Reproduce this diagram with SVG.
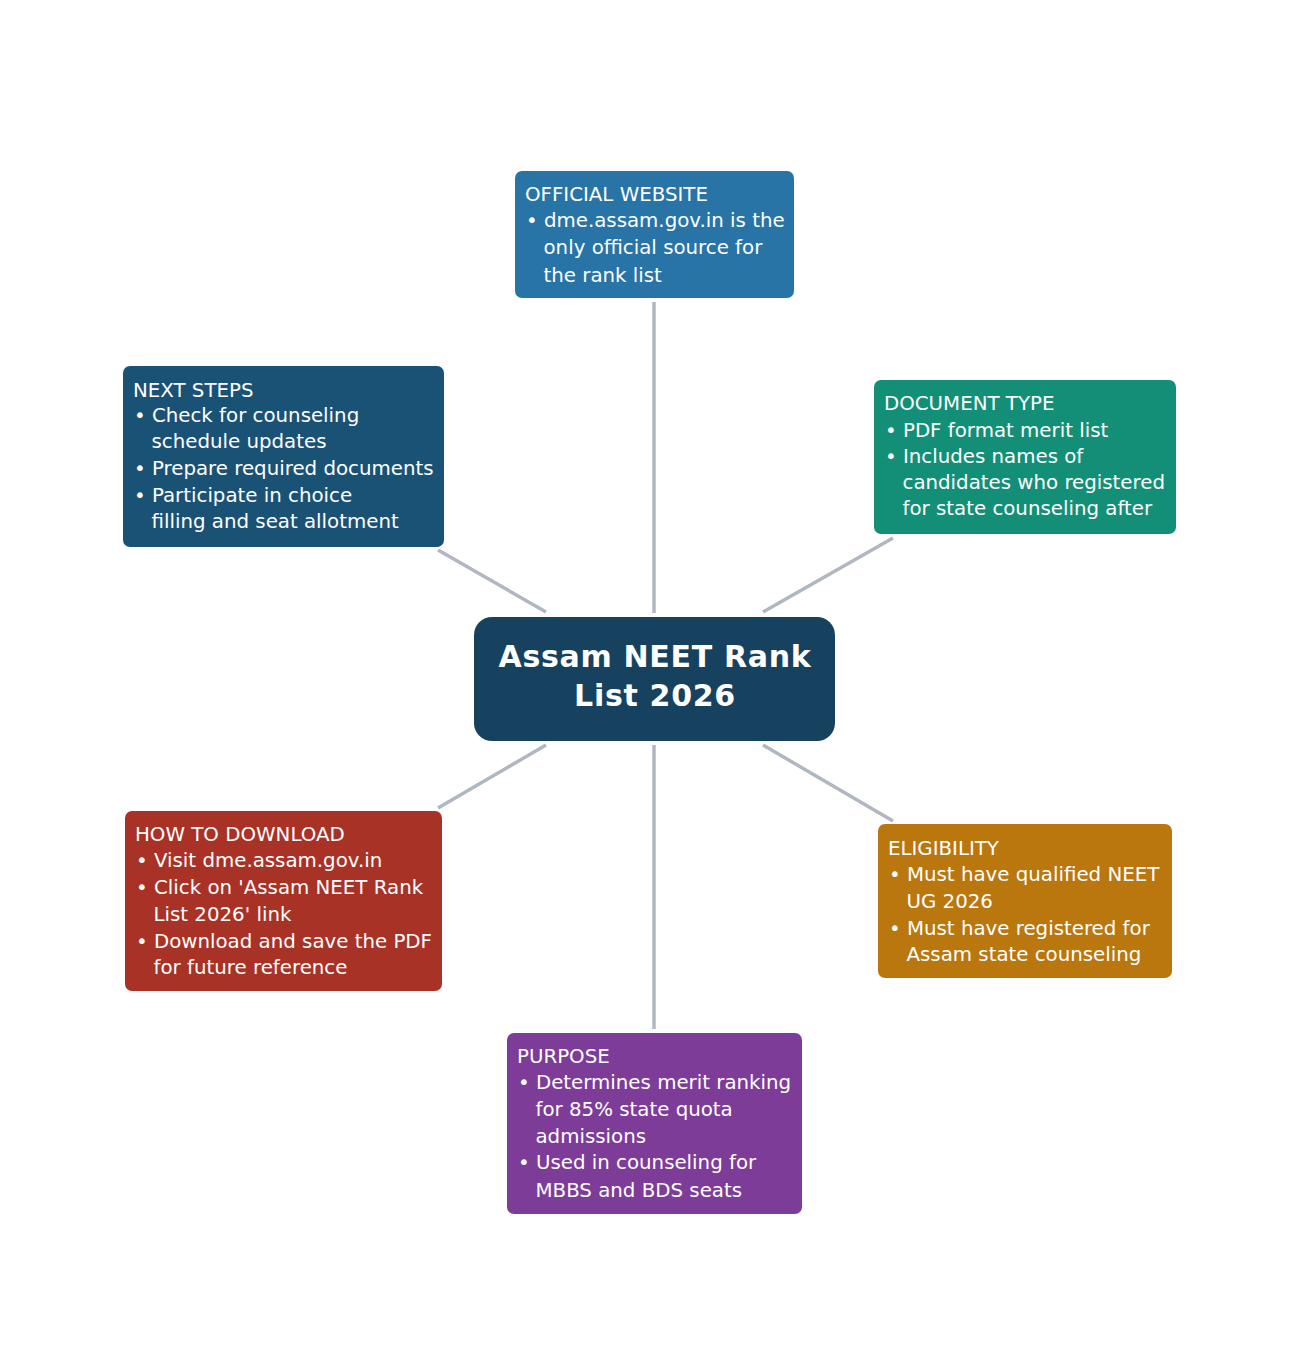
<svg xmlns="http://www.w3.org/2000/svg" width="1308" height="1358" viewBox="0 0 1308 1358">
<style>
.t{font-family:"DejaVu Sans","Liberation Sans",sans-serif;font-size:19.8px;fill:#ffffff}
.c{font-family:"DejaVu Sans","Liberation Sans",sans-serif;font-size:30px;font-weight:bold;fill:#ffffff;text-anchor:middle;letter-spacing:0.7px}
.e{stroke:#b0b7c1;stroke-width:3.5;fill:none}
</style>
<rect width="1308" height="1358" fill="#ffffff"/>
<g id="connectors">
<line class="e" x1="654" y1="302" x2="654" y2="613"/>
<line class="e" x1="438" y1="550" x2="546" y2="612"/>
<line class="e" x1="893" y1="538" x2="763" y2="612"/>
<line class="e" x1="546" y1="745" x2="438" y2="808"/>
<line class="e" x1="763" y1="745" x2="893" y2="821"/>
<line class="e" x1="654" y1="745" x2="654" y2="1029"/>
</g>
<g id="center">
<rect x="474" y="617" width="361" height="124" rx="18" fill="#17425f"/>
<text class="c" x="655" y="667">Assam NEET Rank</text>
<text class="c" x="655" y="706">List 2026</text>
</g>
<g id="official-website">
<rect x="515" y="171" width="279" height="127" rx="7" fill="#2874a6"/>
<text class="t" x="525" y="201">OFFICIAL WEBSITE</text>
<text class="t" x="526" y="227">• dme.assam.gov.in is the</text>
<text class="t" x="543.5" y="254">only official source for</text>
<text class="t" x="543.5" y="282">the rank list</text>
</g>
<g id="next-steps">
<rect x="123" y="366" width="321" height="181" rx="7" fill="#1a5276"/>
<text class="t" x="133" y="397">NEXT STEPS</text>
<text class="t" x="134" y="422">• Check for counseling</text>
<text class="t" x="151.5" y="448">schedule updates</text>
<text class="t" x="134" y="475">• Prepare required documents</text>
<text class="t" x="134" y="502">• Participate in choice</text>
<text class="t" x="151.5" y="528">filling and seat allotment</text>
</g>
<g id="document-type">
<rect x="874" y="380" width="302" height="154" rx="7" fill="#148f77"/>
<text class="t" x="884" y="410">DOCUMENT TYPE</text>
<text class="t" x="885" y="437">• PDF format merit list</text>
<text class="t" x="885" y="463">• Includes names of</text>
<text class="t" x="902.5" y="489">candidates who registered</text>
<text class="t" x="902.5" y="515">for state counseling after</text>
</g>
<g id="how-to-download">
<rect x="125" y="811" width="317" height="180" rx="7" fill="#a93226"/>
<text class="t" x="135" y="841">HOW TO DOWNLOAD</text>
<text class="t" x="136" y="867">• Visit dme.assam.gov.in</text>
<text class="t" x="136" y="894">• Click on 'Assam NEET Rank</text>
<text class="t" x="153.5" y="921">List 2026' link</text>
<text class="t" x="136" y="948">• Download and save the PDF</text>
<text class="t" x="153.5" y="974">for future reference</text>
</g>
<g id="eligibility">
<rect x="878" y="824" width="294" height="154" rx="7" fill="#b9770e"/>
<text class="t" x="888" y="855">ELIGIBILITY</text>
<text class="t" x="889" y="881">• Must have qualified NEET</text>
<text class="t" x="906.5" y="908">UG 2026</text>
<text class="t" x="889" y="935">• Must have registered for</text>
<text class="t" x="906.5" y="961">Assam state counseling</text>
</g>
<g id="purpose">
<rect x="507" y="1033" width="295" height="181" rx="7" fill="#7d3c98"/>
<text class="t" x="517" y="1063">PURPOSE</text>
<text class="t" x="518" y="1089">• Determines merit ranking</text>
<text class="t" x="535.5" y="1116">for 85% state quota</text>
<text class="t" x="535.5" y="1143">admissions</text>
<text class="t" x="518" y="1169">• Used in counseling for</text>
<text class="t" x="535.5" y="1197">MBBS and BDS seats</text>
</g>
</svg>
